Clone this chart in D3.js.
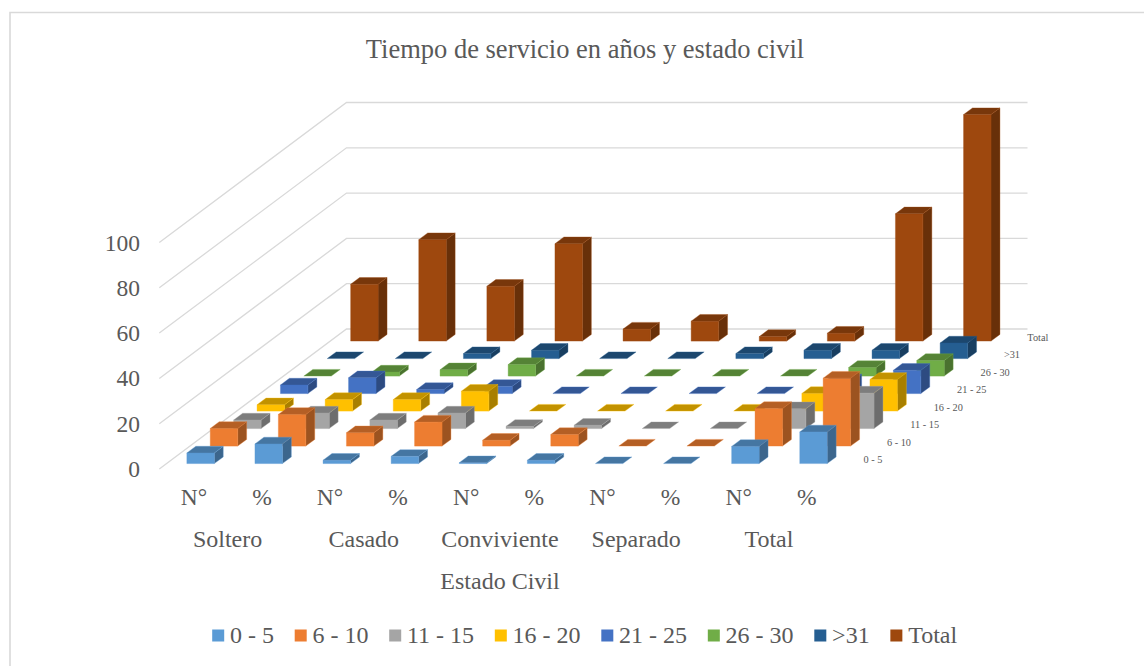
<!DOCTYPE html>
<html>
<head>
<meta charset="utf-8">
<script src="https://cdn.jsdelivr.net/npm/d3@7/dist/d3.min.js"></script>
<style>
html,body{margin:0;padding:0;background:#fff;overflow:hidden}
text{font-family:"Liberation Serif","Times New Roman",serif;fill:#595959}
</style>
</head>
<body>
<svg id="chart" width="1144" height="666"></svg>
<script>
const titleText = "Tiempo de servicio en años y estado civil";
const axisTitle = "Estado Civil";
const groups = ["Soltero","Casado","Conviviente","Separado","Total"];
const measures = ["N°","%"];
const seriesNames = ["0 - 5","6 - 10","11 - 15","16 - 20","21 - 25","26 - 30",">31","Total"];
const seriesColors = ["#5B9BD5","#ED7D31","#A5A5A5","#FFC000","#4472C4","#70AD47","#255E91","#9E480E"];
const yTicks = [0,20,40,60,80,100];

const s0_5   = [4.7, 8.7, 1.5, 3.2, 0.4, 1.5, 0, 0, 7.6, 14];
const s6_10  = [7.8, 14, 5.9, 10.6, 2.6, 5.1, 0, 0, 16.6, 30];
const s11_15 = [3.8, 6.9, 3.8, 6.9, 1, 1.5, 0, 0, 8.8, 15.7];
const s16_20 = [2.8, 5.1, 5.1, 8.8, 0, 0, 0, 0, 7.8, 14];
const s21_25 = [3.8, 7, 1.8, 3.2, 0, 0, 0, 0, 5.6, 10.3];
const s26_30 = [0, 1.8, 2.8, 5.1, 0, 0, 0, 0, 3.8, 6.9];
const s31    = [0, 0, 2.2, 3.7, 0, 0, 2.2, 3.7, 3.7, 6.9];
const sTotal = [25.1, 44.8, 24.2, 43, 5.3, 8.8, 2, 3.5, 56.2, 100];
const seriesValues = [s0_5, s6_10, s11_15, s16_20, s21_25, s26_30, s31, sTotal];

const columns = groups.flatMap(g => measures.map(m => g + "|" + m));
const svg = d3.select("#chart");

const originX = 159.3, originY = 469, depthLen = 140, skew = 187.2 / 140, floorW = 681;

const xBand = d3.scaleBand().domain(columns).range([0, floorW]).paddingInner(0.597).paddingOuter(0.2985);
const dBand = d3.scaleBand().domain(seriesNames).range([0, depthLen]).paddingInner(0.617).paddingOuter(0.3085);
const yScale = d3.scaleLinear().domain([0, 100]).range([0, 226.5]);

const P = (x, d, v) => [originX + x + d * skew, originY - d - yScale(v)];
const pathOf = pts => "M" + pts.map(p => p[0].toFixed(2) + "," + p[1].toFixed(2)).join("L") + "Z";
const shade = (c, k) => { const r = d3.rgb(c); return d3.rgb(r.r * k, r.g * k, r.b * k).formatHex(); };

// frame
svg.append("path").attr("d", "M1150,12.5H10V672").attr("fill", "none").attr("stroke", "#d9d9d9").attr("stroke-width", 1.6);

// title
svg.append("text").attr("x", 585).attr("y", 58).attr("text-anchor", "middle").style("font-size", "26.5px").text(titleText);

// walls
const grid = svg.append("g").attr("fill", "none").attr("stroke", "#d9d9d9").attr("stroke-width", 1.3);
yTicks.forEach(t => {
  const a = P(0, 0, t), b = P(0, depthLen, t), c = P(floorW, depthLen, t);
  grid.append("path").attr("d", "M" + a + "L" + b + "L" + c);
});

// y labels
svg.append("g").selectAll("text").data(yTicks).join("text")
  .attr("x", 140).attr("y", t => P(0, 0, t)[1] + 8)
  .attr("text-anchor", "end").style("font-size", "23.5px").text(t => t);

// bars, back row first
const w = xBand.bandwidth(), dd = dBand.bandwidth();
const barsG = svg.append("g");
d3.range(seriesNames.length - 1, -1, -1).forEach(si => {
  const name = seriesNames[si], col = seriesColors[si];
  const row = barsG.append("g");
  row.selectAll("g").data(seriesValues[si].map((v, i) => ({v, c: columns[i]}))).join("g").each(function(e) {
    const g = d3.select(this);
    const x0 = xBand(e.c), x1 = x0 + w, d0 = dBand(name), d1 = d0 + dd;
    const halo = d3.color(col).copy({opacity: 0.35}) + "";
    if (e.v > 0) {
      g.append("path").attr("d", pathOf([P(x1,d0,0),P(x1,d1,0),P(x1,d1,e.v),P(x1,d0,e.v)]))
        .attr("fill", shade(col, 0.66)).attr("stroke", halo).attr("stroke-width", 1);
      g.append("path").attr("d", pathOf([P(x0,d0,0),P(x1,d0,0),P(x1,d0,e.v),P(x0,d0,e.v)]))
        .attr("fill", col).attr("stroke", halo).attr("stroke-width", 1);
    }
    g.append("path").attr("d", pathOf([P(x0,d0,e.v),P(x1,d0,e.v),P(x1,d1,e.v),P(x0,d1,e.v)]))
      .attr("fill", shade(col, 0.76)).attr("stroke", halo).attr("stroke-width", 1);
  });
});

// series labels along right side
svg.append("g").selectAll("text").data(seriesNames).join("text")
  .attr("x", s => P(floorW, dBand(s), 0)[0] + 16)
  .attr("y", s => P(floorW, dBand(s), 0)[1] - 0.5)
  .style("font-size", "10.3px").text(s => s);

// category labels
svg.append("g").selectAll("text").data(columns).join("text")
  .attr("x", c => originX + xBand(c) + w / 2 + 0.5)
  .attr("y", 505).attr("text-anchor", "middle").style("font-size", "23.5px")
  .text(c => c.split("|")[1]);

svg.append("g").selectAll("text").data(groups).join("text")
  .attr("x", g => originX + (xBand(g + "|" + measures[0]) + xBand(g + "|" + measures[1]) + w) / 2 + 0.2 - (g === "Total" ? 3.5 : 0))
  .attr("y", 547).attr("text-anchor", "middle").style("font-size", "24px").text(g => g);

svg.append("text").attr("x", 500).attr("y", 589).attr("text-anchor", "middle").style("font-size", "24px").text(axisTitle);

// legend
const legend = svg.append("g");
let lx = 212.2;
seriesNames.forEach((s, i) => {
  legend.append("rect").attr("x", lx).attr("y", 629.5).attr("width", 12).attr("height", 12).attr("fill", seriesColors[i]);
  const t = legend.append("text").attr("x", lx + 17.8).attr("y", 643).style("font-size", "24px").text(s);
  lx += 17.8 + t.node().getComputedTextLength() + 20.7;
});
</script>
</body>
</html>
